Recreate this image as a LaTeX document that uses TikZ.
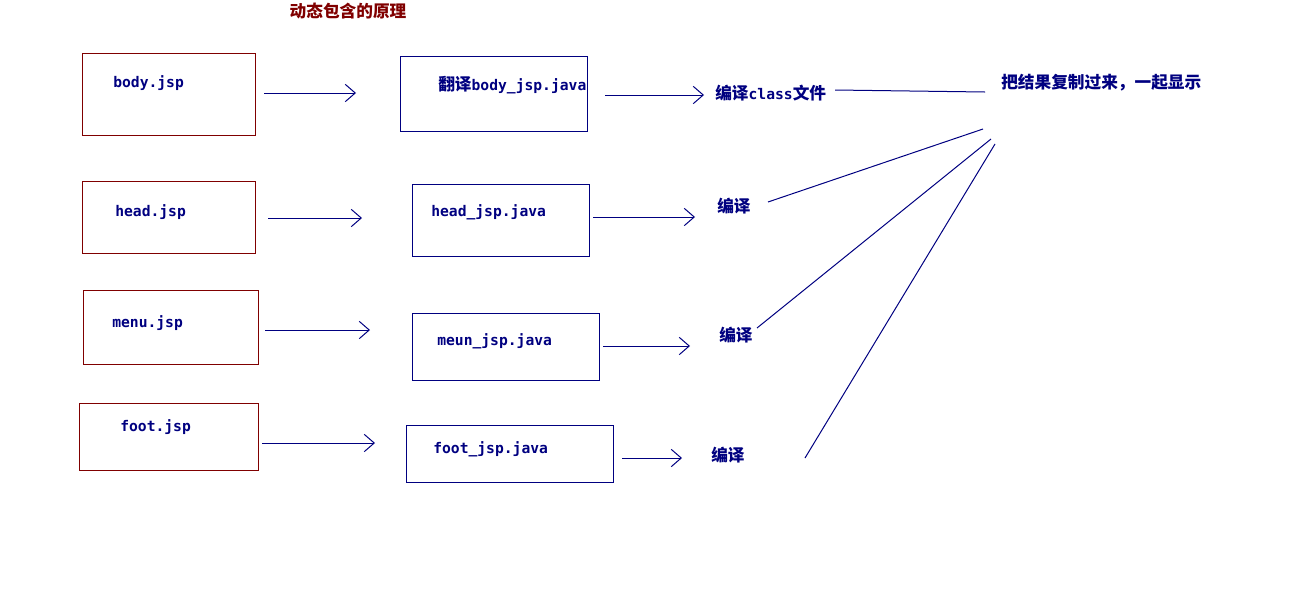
\documentclass[tikz,border=0pt]{standalone}
\usepackage{fontspec}
\usetikzlibrary{arrows.meta,calc}
\newfontfamily\cjk{Noto Sans CJK SC}
\newfontfamily\mono{DejaVu Sans Mono}
\newcommand{\zh}[1]{{\fontsize{12.5}{14}\selectfont\cjk #1}}
\definecolor{dred}{RGB}{128,0,0}
\definecolor{navyb}{RGB}{0,0,128}
\tikzset{
  redbox/.style={draw=dred, line width=0.75pt, rectangle, inner sep=0pt},
  bluebox/.style={draw=navyb, line width=0.75pt, rectangle, inner sep=0pt},
  lbl/.style={anchor=west, inner sep=0pt, text=navyb, font=\fontsize{11}{13}\selectfont\bfseries},
  conn/.style={draw=navyb, line width=0.75pt},
  arr/.style={conn, -{Straight Barb[length=7.5pt,width=13pt,line width=0.75pt]}},
}
\newcommand{\bx}[5]{\node[#1, minimum width=#4*0.75pt, minimum height=#5*0.75pt] (#2) at (#3) {};}
\begin{document}
\begin{tikzpicture}[x=0.75pt,y=-0.75pt]
\useasboundingbox (0,0) rectangle (1313,611);
% title
\node[inner sep=0pt, text=dred, font=\fontsize{12.5}{14}\selectfont\cjk\bfseries] (title) at (348,11) {动态包含的原理};
% red boxes
\bx{redbox}{r1}{168.5,94}{173}{82}
\bx{redbox}{r2}{168.5,217}{173}{72}
\bx{redbox}{r3}{170.5,327}{175}{74}
\bx{redbox}{r4}{168.5,436.5}{179}{67}
\node[lbl] (tr1) at (113,83) {\mono body.jsp};
\node[lbl] (tr2) at (115,212) {\mono head.jsp};
\node[lbl] (tr3) at (112,323) {\mono menu.jsp};
\node[lbl] (tr4) at (120,427) {\mono foot.jsp};
% blue boxes
\bx{bluebox}{j1}{493.5,93.5}{187}{75}
\bx{bluebox}{j2}{500.5,220}{177}{72}
\bx{bluebox}{j3}{505.5,346.5}{187}{67}
\bx{bluebox}{j4}{509.5,453.5}{207}{57}
\node[lbl] (tj1) at (438,85) {\zh{翻译}\mono body\_jsp.java};
\node[lbl] (tj2) at (431,212) {\mono head\_jsp.java};
\node[lbl] (tj3) at (437,341) {\mono meun\_jsp.java};
\node[lbl] (tj4) at (433,449) {\mono foot\_jsp.java};
% compile labels
\node[lbl] (c1) at (715,93) {\zh{编译}{\mono class}\zh{文件}};
\node[lbl] (c2) at (717,206) {\zh{编译}};
\node[lbl] (c3) at (719,335) {\zh{编译}};
\node[lbl] (c4) at (711,455) {\zh{编译}};
\node[lbl] (res) at (1001,83) {\zh{把结果复制过来，一起显示}};
% arrow endpoints
\coordinate (a1s) at (264,93);  \coordinate (a1e) at (356,93);
\coordinate (b1s) at (605,95);  \coordinate (b1e) at (704,95);
\coordinate (a2s) at (268,218); \coordinate (a2e) at (362,218);
\coordinate (b2s) at (593,217); \coordinate (b2e) at (695,217);
\coordinate (a3s) at (265,330); \coordinate (a3e) at (370,330);
\coordinate (b3s) at (603,346); \coordinate (b3e) at (690,346);
\coordinate (a4s) at (262,443); \coordinate (a4e) at (375,443);
\coordinate (b4s) at (622,458); \coordinate (b4e) at (682,458);
\draw[arr] (a1s) -- (a1e);
\draw[arr] (b1s) -- (b1e);
\draw[arr] (a2s) -- (a2e);
\draw[arr] (b2s) -- (b2e);
\draw[arr] (a3s) -- (a3e);
\draw[arr] (b3s) -- (b3e);
\draw[arr] (a4s) -- (a4e);
\draw[arr] (b4s) -- (b4e);
% merging lines
\coordinate (l1s) at (835,90);  \coordinate (l1e) at (985,92);
\coordinate (l2s) at (768,202); \coordinate (l2e) at (983,129);
\coordinate (l3s) at (757,328); \coordinate (l3e) at (991,139);
\coordinate (l4s) at (805,458); \coordinate (l4e) at (995,144);
\draw[conn] (l1s) -- (l1e);
\draw[conn] (l2s) -- (l2e);
\draw[conn] (l3s) -- (l3e);
\draw[conn] (l4s) -- (l4e);
\end{tikzpicture}
\end{document}
